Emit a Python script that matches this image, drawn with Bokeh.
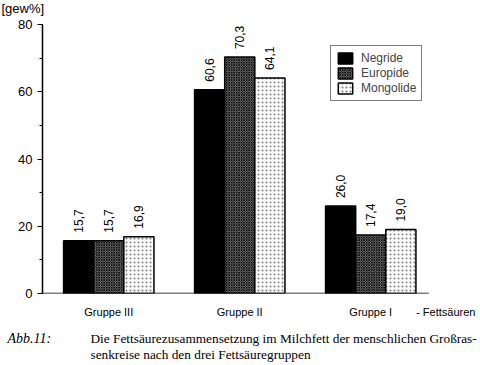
import numpy as np
from bokeh.plotting import figure
from bokeh.layouts import column
from bokeh.models import (Range1d, FixedTicker, SingleIntervalTicker,
                          Legend, LegendItem, ColumnDataSource)
from bokeh.core.properties import value
from bokeh.embed import file_html
from bokeh.resources import INLINE

# ---- data ----
groups = ["Gruppe III", "Gruppe II", "Gruppe I"]
series = ["Negride", "Europide", "Mongolide"]
negride = [15.7, 60.6, 26.0]
europide = [15.7, 70.3, 17.4]
mongolide = [16.9, 64.1, 19.0]
y_ticks = [0, 20, 40, 60, 80]
y_label = "[gew%]"
x_suffix = "- Fettsäuren"
caption_tag = "Abb.11:"
caption_1 = "Die Fettsäurezusammensetzung im Milchfett der menschlichen Großras-"
caption_2 = "senkreise nach den drei Fettsäuregruppen"

SANS = "Liberation Sans"
SERIF = "Liberation Serif"
W = 480


def blank_fig(h):
    f = figure(width=W, height=h, output_backend="svg", toolbar_location=None,
               x_range=Range1d(0, W), y_range=Range1d(0, h), min_border=0,
               x_axis_location=None, y_axis_location=None)
    f.grid.visible = False
    f.outline_line_color = None
    f.frame_align = False
    return f


# ---- header with unit label ----
head = blank_fig(16)
head.text(x=[1], y=[8], text=[y_label], text_baseline="middle", text_align="left",
          text_font=value(SANS), text_font_size="13px", text_color="black")

# ---- main chart ----
p = figure(width=W, height=309, output_backend="svg", toolbar_location=None,
           x_range=Range1d(-0.506, 2.838), y_range=Range1d(0, 80),
           min_border_left=42, min_border_right=0, min_border_top=8,
           min_border_bottom=32)
p.frame_align = False
p.outline_line_color = None
p.xgrid.visible = False
p.ygrid.visible = False

bw = 0.23
offsets = [-bw, 0.0, bw]
styles = [
    dict(fill_color="black"),
    dict(fill_color="#a8a8a8", hatch_pattern="diagonal_cross", hatch_color="black",
         hatch_scale=2.5, hatch_weight=1),
    dict(fill_color="white", hatch_pattern="dot", hatch_color="#777777",
         hatch_scale=4, hatch_weight=1),
]
renderers = []
for vals, off, st in zip([negride, europide, mongolide], offsets, styles):
    xs = [i + off for i in range(len(groups))]
    src = ColumnDataSource(dict(x=xs, top=vals,
                                lbl=[f"{v:.1f}".replace(".", ",") for v in vals]))
    r = p.vbar(x="x", top="top", bottom=0, width=bw, source=src,
               line_color="black", line_width=1.5, **st)
    renderers.append(r)
    p.text(x="x", y="top", text="lbl", source=src, angle=np.pi / 2,
           text_align="left", text_baseline="middle", y_offset=-8,
           text_font=value(SANS), text_font_size="12px", text_color="black")

# baseline of the x axis (ends a little after the last group)
p.segment(x0=[p.x_range.start], x1=[len(groups) - 1 + 0.443], y0=[0], y1=[0],
          line_color="black", line_width=1.5)

ya = p.yaxis[0]
ya.ticker = SingleIntervalTicker(interval=20, num_minor_ticks=2)
ya.axis_line_width = 1.5
ya.major_tick_out = 5
ya.major_tick_in = 0
ya.minor_tick_out = 3
ya.minor_tick_in = 0
ya.major_tick_line_width = 1.2
ya.minor_tick_line_width = 1.2
ya.major_label_text_font = SANS
ya.major_label_text_font_size = "13px"
ya.major_label_text_color = "black"
ya.major_label_standoff = 5

suffix_pos = len(groups) - 1 + 0.573
xa = p.xaxis[0]
xa.ticker = FixedTicker(ticks=list(range(len(groups))) + [suffix_pos])
overrides = {i: g for i, g in enumerate(groups)}
overrides[suffix_pos] = x_suffix
xa.major_label_overrides = overrides
xa.axis_line_color = None
xa.major_tick_line_color = None
xa.minor_tick_line_color = None
xa.major_label_text_font = SANS
xa.major_label_text_font_size = "11px"
xa.major_label_text_color = "black"
xa.major_label_standoff = 6

legend = Legend(items=[LegendItem(label=s, renderers=[r]) for s, r in zip(series, renderers)],
                location=(288, 192), orientation="vertical",
                border_line_color="black", border_line_width=1,
                background_fill_alpha=1, padding=5, spacing=1, margin=0,
                glyph_width=18, glyph_height=14, label_height=14,
                label_standoff=7, label_text_font=SANS, label_text_font_size="12px",
                label_text_baseline="middle")
p.add_layout(legend, "center")

# ---- caption ----
cap = blank_fig(40)
cap.text(x=[7], y=[27], text=[caption_tag], text_baseline="middle", text_align="left",
         text_font=value(SERIF), text_font_style="italic", text_font_size="14px",
         text_color="black")
cap.text(x=[90, 90], y=[27, 11], text=[caption_1, caption_2], text_baseline="middle",
         text_align="left", text_font=value(SERIF), text_font_size="13.3px",
         text_color="black")

layout = column(head, p, cap, spacing=0)
open("out.html", "w").write(file_html(layout, INLINE))
